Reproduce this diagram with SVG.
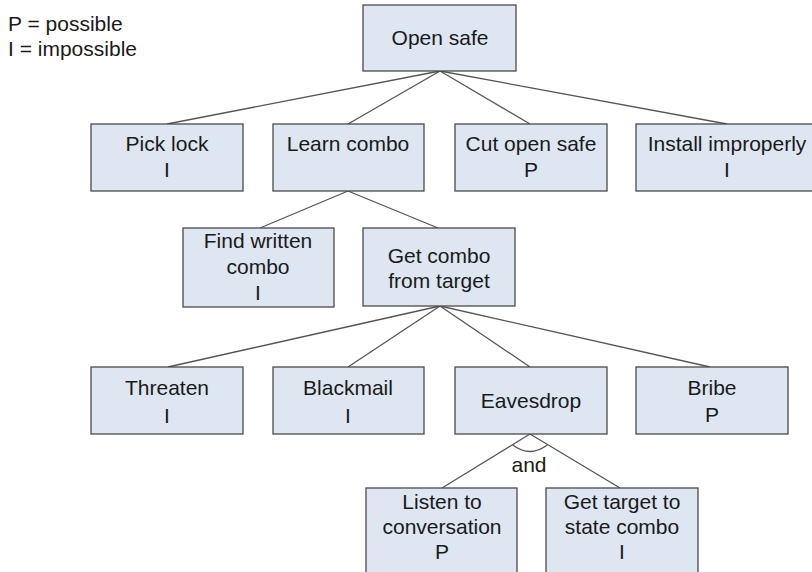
<svg xmlns="http://www.w3.org/2000/svg" width="812" height="572" viewBox="0 0 812 572">
<style>
  .box { fill: #dde6f1; stroke: #4a4a4a; stroke-width: 1.3; }
  .t { font-family: "Liberation Sans", Arial, sans-serif; font-size: 21px; fill: #1a1a1a; text-anchor: middle; }
  .lg { font-family: "Liberation Sans", Arial, sans-serif; font-size: 21px; fill: #1a1a1a; }
  .c { stroke: #555; stroke-width: 1.3; fill: none; }
</style>
<rect width="812" height="572" fill="#ffffff"/>
<g id="legend">
  <text class="lg" x="8" y="31">P = possible</text>
  <text class="lg" x="8" y="56">I = impossible</text>
</g>
<g id="connectors">
  <line class="c" x1="440" y1="71" x2="167" y2="124"/>
  <line class="c" x1="440" y1="71" x2="348" y2="124"/>
  <line class="c" x1="440" y1="71" x2="530" y2="124"/>
  <line class="c" x1="440" y1="71" x2="727" y2="124"/>
  <line class="c" x1="348" y1="191" x2="260" y2="228"/>
  <line class="c" x1="348" y1="191" x2="438" y2="228"/>
  <line class="c" x1="440" y1="306" x2="168" y2="367"/>
  <line class="c" x1="440" y1="306" x2="348" y2="367"/>
  <line class="c" x1="440" y1="306" x2="530" y2="367"/>
  <line class="c" x1="440" y1="306" x2="710" y2="367"/>
  <line class="c" x1="530" y1="434" x2="442" y2="488"/>
  <line class="c" x1="530" y1="434" x2="620" y2="488"/>
  <path class="c" d="M 512.7 445 Q 530 458 547.3 445"/>
  <text class="t" x="529" y="472">and</text>
</g>
<g id="open-safe">
  <rect class="box" x="363" y="5" width="153" height="66"/>
  <text class="t" x="440" y="45">Open safe</text>
</g>
<g id="pick-lock">
  <rect class="box" x="91" y="124" width="152" height="67"/>
  <text class="t" x="167" y="151">Pick lock</text>
  <text class="t" x="167" y="177">I</text>
</g>
<g id="learn-combo">
  <rect class="box" x="273" y="124" width="151" height="67"/>
  <text class="t" x="348" y="151">Learn combo</text>
</g>
<g id="cut-open-safe">
  <rect class="box" x="455" y="124" width="152" height="67"/>
  <text class="t" x="531" y="151">Cut open safe</text>
  <text class="t" x="531" y="177">P</text>
</g>
<g id="install-improperly">
  <rect class="box" x="636" y="124" width="186" height="67"/>
  <text class="t" x="727" y="151">Install improperly</text>
  <text class="t" x="727" y="177">I</text>
</g>
<g id="find-written-combo">
  <rect class="box" x="183" y="228" width="151" height="79"/>
  <text class="t" x="258" y="248">Find written</text>
  <text class="t" x="258" y="274">combo</text>
  <text class="t" x="258" y="300">I</text>
</g>
<g id="get-combo-from-target">
  <rect class="box" x="363" y="228" width="152" height="78"/>
  <text class="t" x="439" y="263">Get combo</text>
  <text class="t" x="439" y="288">from target</text>
</g>
<g id="threaten">
  <rect class="box" x="91" y="367" width="152" height="67"/>
  <text class="t" x="167" y="395">Threaten</text>
  <text class="t" x="167" y="423">I</text>
</g>
<g id="blackmail">
  <rect class="box" x="273" y="367" width="151" height="67"/>
  <text class="t" x="348" y="395">Blackmail</text>
  <text class="t" x="348" y="423">I</text>
</g>
<g id="eavesdrop">
  <rect class="box" x="455" y="367" width="152" height="67"/>
  <text class="t" x="531" y="408">Eavesdrop</text>
</g>
<g id="bribe">
  <rect class="box" x="636" y="367" width="152" height="67"/>
  <text class="t" x="712" y="395">Bribe</text>
  <text class="t" x="712" y="422">P</text>
</g>
<g id="listen-to-conversation">
  <rect class="box" x="366" y="488" width="151" height="90"/>
  <text class="t" x="442" y="509">Listen to</text>
  <text class="t" x="442" y="534">conversation</text>
  <text class="t" x="442" y="559">P</text>
</g>
<g id="get-target-to-state-combo">
  <rect class="box" x="546" y="488" width="152" height="90"/>
  <text class="t" x="622" y="509">Get target to</text>
  <text class="t" x="622" y="534">state combo</text>
  <text class="t" x="622" y="559">I</text>
</g>
</svg>
